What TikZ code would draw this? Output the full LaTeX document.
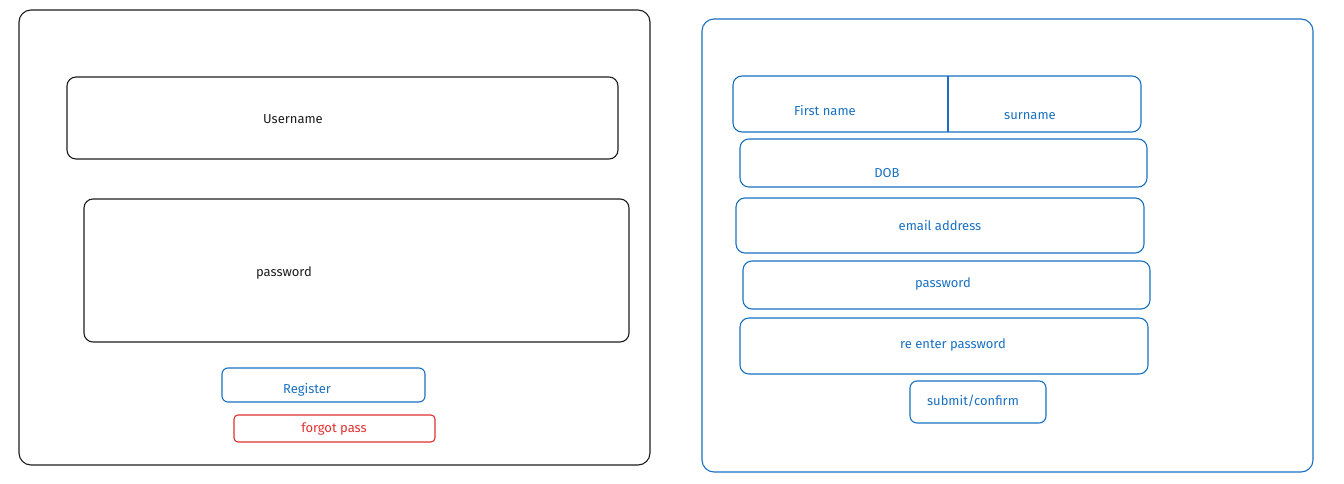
\documentclass[tikz,border=0pt]{standalone}
\usepackage{fontspec}
\setmainfont{Fira Sans}
\definecolor{exblue}{HTML}{1971C2}
\definecolor{exred}{HTML}{E03131}
\definecolor{exblack}{HTML}{1E1E1E}
\begin{document}
\begin{tikzpicture}[x=1pt,y=-1pt,
  frame/.style={draw=#1,line width=1.1pt,rounded corners=12pt},
  field/.style={draw=#1,line width=1.1pt,rounded corners=9pt},
  lbl/.style={text=#1,font=\fontsize{13}{15}\selectfont,inner sep=0pt}]
\useasboundingbox[fill=white] (0,0) rectangle (1344,484);
% left login screen
\draw[frame=exblack] (19,10) rectangle (650,465);
\draw[field=exblack] (67,77) rectangle (618,159);
\node[lbl=exblack] (user) at (293,119) {Username};
\draw[field=exblack] (84,199) rectangle (629,342);
\node[lbl=exblack] (pw) at (284,273) {password};
\draw[field=exblue,rounded corners=6pt] (222,368) rectangle (425,402);
\node[lbl=exblue] (reg) at (307,390) {Register};
\draw[field=exred,rounded corners=4pt] (234,415) rectangle (435,442);
\node[lbl=exred] (forgot) at (334,429) {forgot pass};
% right register screen
\draw[frame=exblue] (702,19) rectangle (1313,472);
\draw[field=exblue] (733,76) rectangle (1141,132);
\draw[exblue,line width=1.1pt] (948,76) -- (948,132);
\node[lbl=exblue] (fn) at (825,111) {First name};
\node[lbl=exblue] (sn) at (1030,116) {surname};
\draw[field=exblue] (740,139) rectangle (1147,187);
\node[lbl=exblue] (dob) at (887,173) {DOB};
\draw[field=exblue] (736,198) rectangle (1144,253);
\node[lbl=exblue] (email) at (940,226) {email address};
\draw[field=exblue] (743,261) rectangle (1150,309);
\node[lbl=exblue] (pw2) at (943,284) {password};
\draw[field=exblue] (740,318) rectangle (1148,374);
\node[lbl=exblue] (re) at (953,345) {re enter password};
\draw[field=exblue,rounded corners=7pt] (910,381) rectangle (1046,423);
\node[lbl=exblue] (sub) at (973,401) {submit/confirm};
\end{tikzpicture}
\end{document}
